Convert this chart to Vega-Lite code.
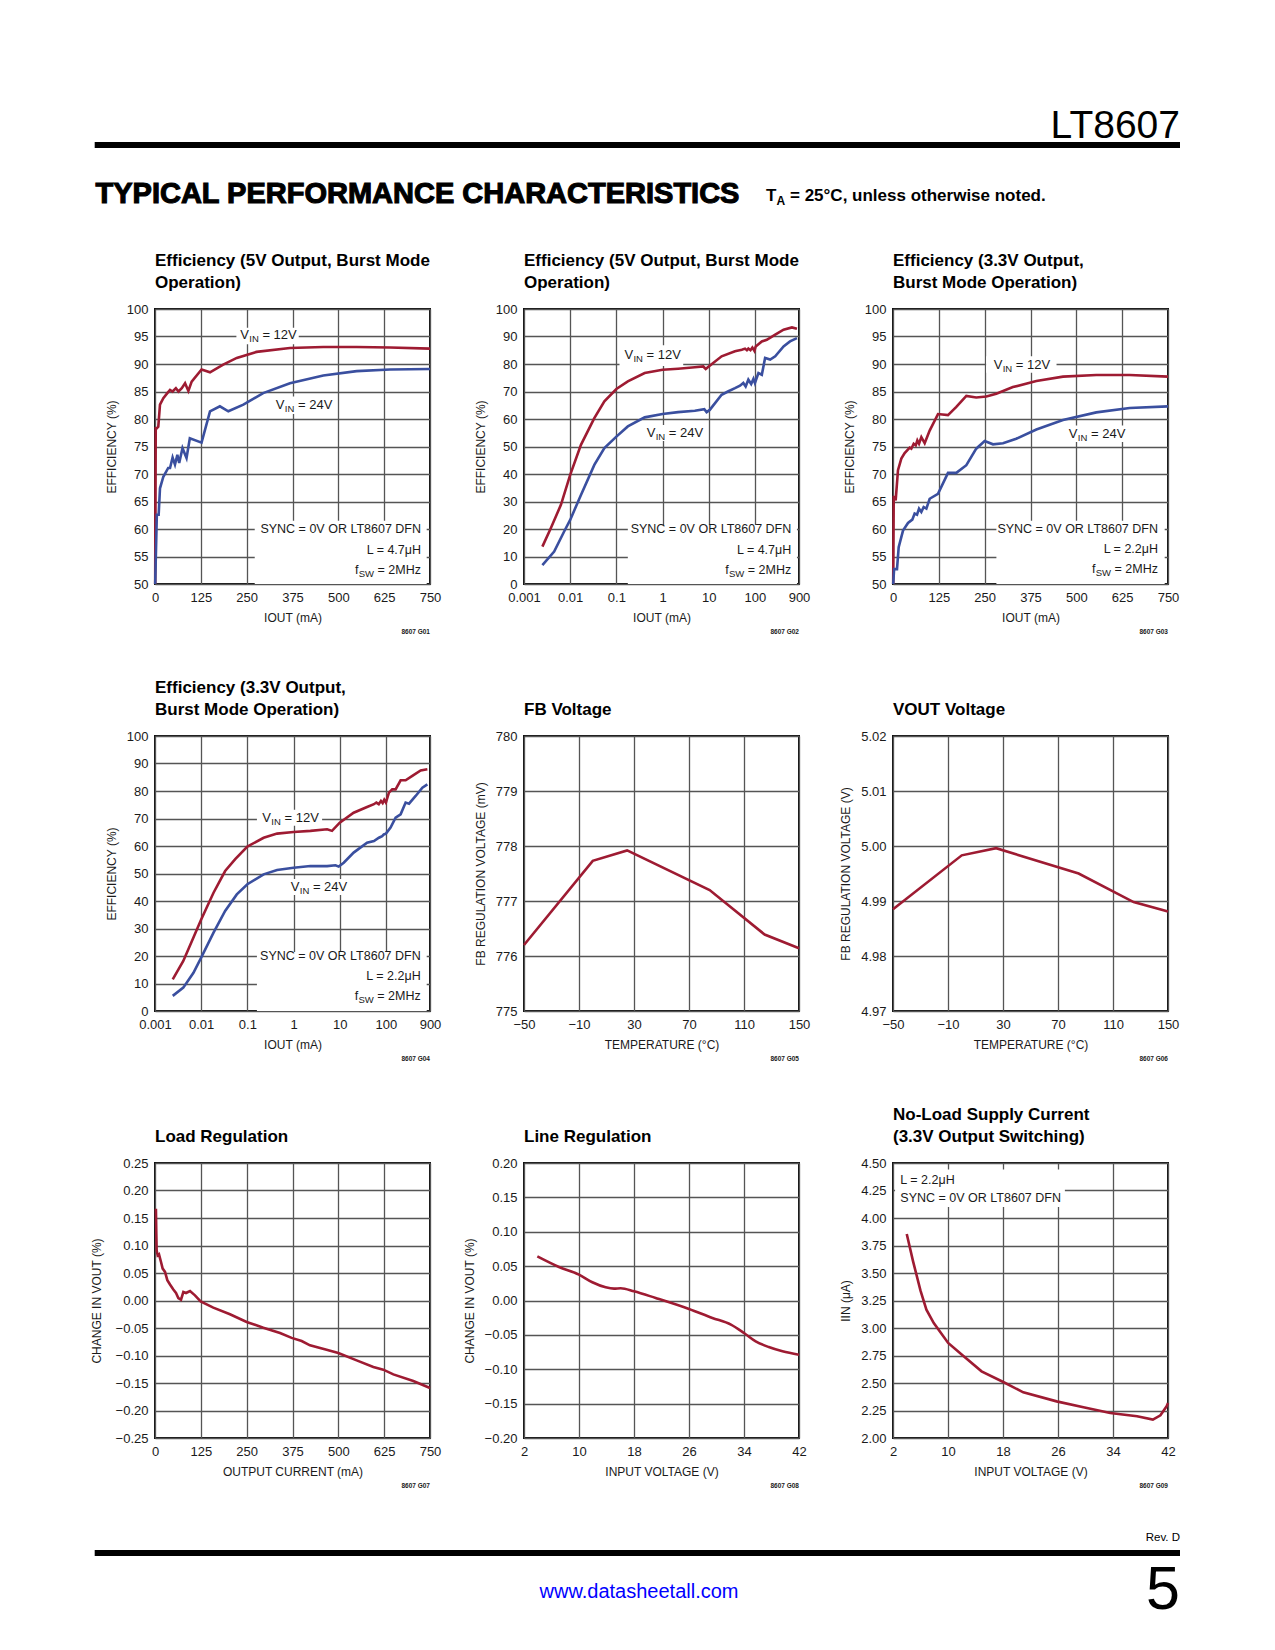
{
"$schema":"https://vega.github.io/schema/vega-lite/v6.json",
"padding":0,
"background":"white",
"config":{
 "font":"Liberation Sans, Arial, sans-serif",
 "view":{"stroke":"#111111","strokeWidth":2},
 "axis":{"domain":false,"ticks":false,"gridColor":"#555555","gridWidth":1.3,"gridOpacity":1,"labelFontSize":13,"labelColor":"#1a1a1a","labelPadding":7,"titleFontSize":12,"titleFontWeight":"normal","titleColor":"#1a1a1a","titlePadding":8,"labelFlush":false,"labelOverlap":false},
 "axisY":{"labelPadding":7,"titlePadding":8},
 "title":{"fontSize":17,"fontWeight":"bold","anchor":"start","frame":"group","color":"#000000","offset":11,"lineHeight":22,"baseline":"bottom"},
 "text":{"fontSize":12.5,"color":"#1a1a1a"},
 "line":{"strokeWidth":2.6}
},
"datasets":{
 "page":[
  {"role":"page","x":0,"x2":1275,"y":0,"y2":1650},
  {"role":"part","text":"LT8607","x":1180,"y":137},
  {"role":"rule","x":94.7,"x2":1180,"y":144},
  {"role":"section","text":"TYPICAL PERFORMANCE CHARACTERISTICS","x":95.5,"y":202},
  {"role":"note","text":"T","x":766,"y":200},
  {"role":"noteSub","text":"A","x":776.5,"y":200},
  {"role":"note","text":"= 25°C, unless otherwise noted.","x":790,"y":200},
  {"role":"rev","text":"Rev. D","x":1180,"y":1537},
  {"role":"rule","x":94.7,"x2":1180,"y":1552},
  {"role":"url","text":"www.datasheetall.com","x":639,"y":1591},
  {"role":"pageno","text":"5","x":1180,"y":1608}
 ],
 "eff":[
  {"chart":"G01","vin":"12V","x":0.5,"y":50},{"chart":"G01","vin":"12V","x":2,"y":78.3},{"chart":"G01","vin":"12V","x":4.5,"y":78.3},{"chart":"G01","vin":"12V","x":9,"y":78.6},{"chart":"G01","vin":"12V","x":13.6,"y":82.6},{"chart":"G01","vin":"12V","x":22.7,"y":83.8},{"chart":"G01","vin":"12V","x":33.6,"y":84.7},{"chart":"G01","vin":"12V","x":41,"y":85.3},{"chart":"G01","vin":"12V","x":48,"y":85},{"chart":"G01","vin":"12V","x":57,"y":85.6},{"chart":"G01","vin":"12V","x":64,"y":85},{"chart":"G01","vin":"12V","x":73,"y":85.6},{"chart":"G01","vin":"12V","x":82,"y":86.5},{"chart":"G01","vin":"12V","x":91,"y":85.1},{"chart":"G01","vin":"12V","x":100,"y":86.8},{"chart":"G01","vin":"12V","x":127,"y":89.0},{"chart":"G01","vin":"12V","x":150,"y":88.5},{"chart":"G01","vin":"12V","x":186,"y":89.9},{"chart":"G01","vin":"12V","x":223,"y":91.1},{"chart":"G01","vin":"12V","x":277,"y":92.2},{"chart":"G01","vin":"12V","x":368,"y":92.9},{"chart":"G01","vin":"12V","x":459,"y":93.1},{"chart":"G01","vin":"12V","x":550,"y":93.1},{"chart":"G01","vin":"12V","x":641,"y":93.0},{"chart":"G01","vin":"12V","x":750,"y":92.8},
  {"chart":"G01","vin":"24V","x":0.5,"y":50},{"chart":"G01","vin":"24V","x":5,"y":62.6},{"chart":"G01","vin":"24V","x":10,"y":62.6},{"chart":"G01","vin":"24V","x":13.6,"y":67.4},{"chart":"G01","vin":"24V","x":22.7,"y":69.5},{"chart":"G01","vin":"24V","x":36,"y":71.1},{"chart":"G01","vin":"24V","x":41,"y":71.1},{"chart":"G01","vin":"24V","x":48,"y":73.0},{"chart":"G01","vin":"24V","x":54.5,"y":71.7},{"chart":"G01","vin":"24V","x":61,"y":73.5},{"chart":"G01","vin":"24V","x":66,"y":72},{"chart":"G01","vin":"24V","x":75,"y":74.7},{"chart":"G01","vin":"24V","x":86,"y":72.9},{"chart":"G01","vin":"24V","x":95,"y":76.5},{"chart":"G01","vin":"24V","x":127,"y":75.7},{"chart":"G01","vin":"24V","x":150,"y":81.4},{"chart":"G01","vin":"24V","x":177,"y":82.3},{"chart":"G01","vin":"24V","x":200,"y":81.4},{"chart":"G01","vin":"24V","x":241,"y":82.6},{"chart":"G01","vin":"24V","x":295,"y":84.7},{"chart":"G01","vin":"24V","x":368,"y":86.5},{"chart":"G01","vin":"24V","x":459,"y":87.9},{"chart":"G01","vin":"24V","x":550,"y":88.7},{"chart":"G01","vin":"24V","x":641,"y":89.0},{"chart":"G01","vin":"24V","x":750,"y":89.1},
  {"chart":"G02","vin":"12V","x":0.0025,"y":13.6},{"chart":"G02","vin":"12V","x":0.0038,"y":20.3},{"chart":"G02","vin":"12V","x":0.0063,"y":28.8},{"chart":"G02","vin":"12V","x":0.01,"y":39.7},{"chart":"G02","vin":"12V","x":0.0171,"y":50.6},{"chart":"G02","vin":"12V","x":0.0333,"y":60.3},{"chart":"G02","vin":"12V","x":0.055,"y":66.4},{"chart":"G02","vin":"12V","x":0.1,"y":70.9},{"chart":"G02","vin":"12V","x":0.177,"y":73.7},{"chart":"G02","vin":"12V","x":0.41,"y":76.7},{"chart":"G02","vin":"12V","x":1,"y":77.9},{"chart":"G02","vin":"12V","x":2.17,"y":78.3},{"chart":"G02","vin":"12V","x":5,"y":78.8},{"chart":"G02","vin":"12V","x":7.6,"y":79.1},{"chart":"G02","vin":"12V","x":8.6,"y":78.2},{"chart":"G02","vin":"12V","x":10,"y":79.1},{"chart":"G02","vin":"12V","x":19,"y":82.8},{"chart":"G02","vin":"12V","x":37,"y":84.6},{"chart":"G02","vin":"12V","x":52,"y":85.2},{"chart":"G02","vin":"12V","x":61,"y":85.6},{"chart":"G02","vin":"12V","x":67,"y":85.0},{"chart":"G02","vin":"12V","x":72,"y":85.6},{"chart":"G02","vin":"12V","x":80,"y":85.0},{"chart":"G02","vin":"12V","x":88,"y":86.0},{"chart":"G02","vin":"12V","x":97.5,"y":84.8},{"chart":"G02","vin":"12V","x":104,"y":86.4},{"chart":"G02","vin":"12V","x":141,"y":88.2},{"chart":"G02","vin":"12V","x":181,"y":88.8},{"chart":"G02","vin":"12V","x":275,"y":90.7},{"chart":"G02","vin":"12V","x":417,"y":92.5},{"chart":"G02","vin":"12V","x":632,"y":93.3},{"chart":"G02","vin":"12V","x":813,"y":92.8},
  {"chart":"G02","vin":"24V","x":0.0025,"y":6.9},{"chart":"G02","vin":"24V","x":0.0045,"y":11.8},{"chart":"G02","vin":"24V","x":0.0074,"y":19.1},{"chart":"G02","vin":"24V","x":0.01,"y":23.3},{"chart":"G02","vin":"24V","x":0.0171,"y":32.4},{"chart":"G02","vin":"24V","x":0.0333,"y":43.3},{"chart":"G02","vin":"24V","x":0.055,"y":49.4},{"chart":"G02","vin":"24V","x":0.1,"y":53.6},{"chart":"G02","vin":"24V","x":0.177,"y":57.3},{"chart":"G02","vin":"24V","x":0.41,"y":60.6},{"chart":"G02","vin":"24V","x":1,"y":61.8},{"chart":"G02","vin":"24V","x":2.17,"y":62.5},{"chart":"G02","vin":"24V","x":5,"y":63},{"chart":"G02","vin":"24V","x":8,"y":63.6},{"chart":"G02","vin":"24V","x":9,"y":62.5},{"chart":"G02","vin":"24V","x":10.5,"y":63.3},{"chart":"G02","vin":"24V","x":19,"y":68.8},{"chart":"G02","vin":"24V","x":26,"y":70},{"chart":"G02","vin":"24V","x":37,"y":71.2},{"chart":"G02","vin":"24V","x":47.5,"y":72.1},{"chart":"G02","vin":"24V","x":56,"y":73.1},{"chart":"G02","vin":"24V","x":63,"y":71.8},{"chart":"G02","vin":"24V","x":72,"y":74.3},{"chart":"G02","vin":"24V","x":83,"y":72.7},{"chart":"G02","vin":"24V","x":93,"y":74.6},{"chart":"G02","vin":"24V","x":100,"y":73.1},{"chart":"G02","vin":"24V","x":119,"y":76.7},{"chart":"G02","vin":"24V","x":141,"y":76.1},{"chart":"G02","vin":"24V","x":166,"y":82.2},{"chart":"G02","vin":"24V","x":214,"y":81.6},{"chart":"G02","vin":"24V","x":275,"y":82.8},{"chart":"G02","vin":"24V","x":417,"y":86.4},{"chart":"G02","vin":"24V","x":575,"y":88.2},{"chart":"G02","vin":"24V","x":813,"y":89.4},
  {"chart":"G03","vin":"12V","x":0.5,"y":50},{"chart":"G03","vin":"12V","x":2,"y":65.8},{"chart":"G03","vin":"12V","x":4.5,"y":65.8},{"chart":"G03","vin":"12V","x":7.3,"y":65.2},{"chart":"G03","vin":"12V","x":13.6,"y":70.7},{"chart":"G03","vin":"12V","x":22.7,"y":72.8},{"chart":"G03","vin":"12V","x":31.8,"y":73.8},{"chart":"G03","vin":"12V","x":45.5,"y":74.8},{"chart":"G03","vin":"12V","x":50,"y":74.6},{"chart":"G03","vin":"12V","x":56.4,"y":75.5},{"chart":"G03","vin":"12V","x":62,"y":75.2},{"chart":"G03","vin":"12V","x":66.4,"y":76.1},{"chart":"G03","vin":"12V","x":71,"y":75.5},{"chart":"G03","vin":"12V","x":77.3,"y":76.7},{"chart":"G03","vin":"12V","x":86.4,"y":75.6},{"chart":"G03","vin":"12V","x":100,"y":77.9},{"chart":"G03","vin":"12V","x":122.7,"y":80.9},{"chart":"G03","vin":"12V","x":150,"y":80.7},{"chart":"G03","vin":"12V","x":172.7,"y":82.2},{"chart":"G03","vin":"12V","x":200,"y":84.2},{"chart":"G03","vin":"12V","x":227,"y":83.9},{"chart":"G03","vin":"12V","x":254.5,"y":84.1},{"chart":"G03","vin":"12V","x":281.8,"y":84.6},{"chart":"G03","vin":"12V","x":327,"y":85.8},{"chart":"G03","vin":"12V","x":391,"y":86.9},{"chart":"G03","vin":"12V","x":463.6,"y":87.7},{"chart":"G03","vin":"12V","x":554.5,"y":88.0},{"chart":"G03","vin":"12V","x":645.5,"y":88.0},{"chart":"G03","vin":"12V","x":750,"y":87.7},
  {"chart":"G03","vin":"24V","x":0.5,"y":50},{"chart":"G03","vin":"24V","x":3,"y":52.7},{"chart":"G03","vin":"24V","x":10.9,"y":52.7},{"chart":"G03","vin":"24V","x":15.5,"y":56.7},{"chart":"G03","vin":"24V","x":27.3,"y":59.7},{"chart":"G03","vin":"24V","x":40.9,"y":61.1},{"chart":"G03","vin":"24V","x":52.7,"y":61.7},{"chart":"G03","vin":"24V","x":59,"y":62.8},{"chart":"G03","vin":"24V","x":65.5,"y":62.6},{"chart":"G03","vin":"24V","x":71,"y":63.7},{"chart":"G03","vin":"24V","x":77.3,"y":63.1},{"chart":"G03","vin":"24V","x":83.6,"y":64},{"chart":"G03","vin":"24V","x":91,"y":63.7},{"chart":"G03","vin":"24V","x":100,"y":65.5},{"chart":"G03","vin":"24V","x":122.7,"y":66.4},{"chart":"G03","vin":"24V","x":150,"y":70.2},{"chart":"G03","vin":"24V","x":172.7,"y":70.2},{"chart":"G03","vin":"24V","x":200,"y":71.6},{"chart":"G03","vin":"24V","x":227,"y":74.6},{"chart":"G03","vin":"24V","x":250,"y":76.0},{"chart":"G03","vin":"24V","x":272.7,"y":75.4},{"chart":"G03","vin":"24V","x":300,"y":75.6},{"chart":"G03","vin":"24V","x":336,"y":76.4},{"chart":"G03","vin":"24V","x":391,"y":78.1},{"chart":"G03","vin":"24V","x":463.6,"y":79.8},{"chart":"G03","vin":"24V","x":554.5,"y":81.2},{"chart":"G03","vin":"24V","x":645.5,"y":82.0},{"chart":"G03","vin":"24V","x":750,"y":82.3},
  {"chart":"G04","vin":"12V","x":0.00242,"y":11.5},{"chart":"G04","vin":"12V","x":0.0041,"y":18.2},{"chart":"G04","vin":"12V","x":0.0068,"y":26.7},{"chart":"G04","vin":"12V","x":0.01,"y":33.3},{"chart":"G04","vin":"12V","x":0.0185,"y":43},{"chart":"G04","vin":"12V","x":0.033,"y":50.9},{"chart":"G04","vin":"12V","x":0.0546,"y":55.2},{"chart":"G04","vin":"12V","x":0.1,"y":59.8},{"chart":"G04","vin":"12V","x":0.225,"y":63},{"chart":"G04","vin":"12V","x":0.44,"y":64.5},{"chart":"G04","vin":"12V","x":1,"y":65.1},{"chart":"G04","vin":"12V","x":2.32,"y":65.5},{"chart":"G04","vin":"12V","x":5.33,"y":66.1},{"chart":"G04","vin":"12V","x":6.8,"y":65.5},{"chart":"G04","vin":"12V","x":10,"y":68.5},{"chart":"G04","vin":"12V","x":20,"y":72.1},{"chart":"G04","vin":"12V","x":39,"y":74.2},{"chart":"G04","vin":"12V","x":55,"y":75.2},{"chart":"G04","vin":"12V","x":62,"y":75.8},{"chart":"G04","vin":"12V","x":70,"y":75.2},{"chart":"G04","vin":"12V","x":78,"y":76.4},{"chart":"G04","vin":"12V","x":85,"y":75.6},{"chart":"G04","vin":"12V","x":92,"y":76.8},{"chart":"G04","vin":"12V","x":100,"y":75.8},{"chart":"G04","vin":"12V","x":116,"y":79.4},{"chart":"G04","vin":"12V","x":137,"y":80.6},{"chart":"G04","vin":"12V","x":162,"y":80.6},{"chart":"G04","vin":"12V","x":208,"y":83.9},{"chart":"G04","vin":"12V","x":267,"y":83.9},{"chart":"G04","vin":"12V","x":373,"y":85.5},{"chart":"G04","vin":"12V","x":565,"y":87.5},{"chart":"G04","vin":"12V","x":789,"y":87.9},
  {"chart":"G04","vin":"24V","x":0.00242,"y":5.5},{"chart":"G04","vin":"24V","x":0.0041,"y":8.5},{"chart":"G04","vin":"24V","x":0.0068,"y":13.9},{"chart":"G04","vin":"24V","x":0.01,"y":19.4},{"chart":"G04","vin":"24V","x":0.0185,"y":28.5},{"chart":"G04","vin":"24V","x":0.033,"y":36.4},{"chart":"G04","vin":"24V","x":0.059,"y":42.4},{"chart":"G04","vin":"24V","x":0.1,"y":46.1},{"chart":"G04","vin":"24V","x":0.225,"y":49.7},{"chart":"G04","vin":"24V","x":0.44,"y":51.3},{"chart":"G04","vin":"24V","x":1,"y":52.1},{"chart":"G04","vin":"24V","x":2.32,"y":52.7},{"chart":"G04","vin":"24V","x":5.33,"y":52.7},{"chart":"G04","vin":"24V","x":8.1,"y":53},{"chart":"G04","vin":"24V","x":9.5,"y":52.5},{"chart":"G04","vin":"24V","x":12.2,"y":53.9},{"chart":"G04","vin":"24V","x":20,"y":57.6},{"chart":"G04","vin":"24V","x":39,"y":61.2},{"chart":"G04","vin":"24V","x":55,"y":61.8},{"chart":"G04","vin":"24V","x":70.5,"y":63},{"chart":"G04","vin":"24V","x":83,"y":63.6},{"chart":"G04","vin":"24V","x":90,"y":64.2},{"chart":"G04","vin":"24V","x":100,"y":64.5},{"chart":"G04","vin":"24V","x":126,"y":66.7},{"chart":"G04","vin":"24V","x":162,"y":70.3},{"chart":"G04","vin":"24V","x":208,"y":71.5},{"chart":"G04","vin":"24V","x":267,"y":75.8},{"chart":"G04","vin":"24V","x":316,"y":75.4},{"chart":"G04","vin":"24V","x":440,"y":78.2},{"chart":"G04","vin":"24V","x":615,"y":81.2},{"chart":"G04","vin":"24V","x":789,"y":82.4}
 ],
 "temp":[
  {"chart":"G05","x":-50,"y":776.2},{"chart":"G05","x":0,"y":777.73},{"chart":"G05","x":25,"y":777.92},{"chart":"G05","x":85,"y":777.2},{"chart":"G05","x":125,"y":776.39},{"chart":"G05","x":150,"y":776.14},
  {"chart":"G06","x":-50,"y":4.9885},{"chart":"G06","x":0,"y":4.9983},{"chart":"G06","x":25,"y":4.9996},{"chart":"G06","x":85,"y":4.995},{"chart":"G06","x":125,"y":4.9898},{"chart":"G06","x":150,"y":4.9881}
 ],
 "loadreg":[
  {"x":2.5,"y":0.167},{"x":3.6,"y":0.1215},{"x":4.5,"y":0.091},{"x":7.3,"y":0.082},{"x":10.9,"y":0.084},{"x":16.4,"y":0.070},{"x":20.9,"y":0.058},{"x":27.3,"y":0.052},{"x":33.6,"y":0.037},{"x":40.9,"y":0.029},{"x":50,"y":0.020},{"x":57.3,"y":0.0136},{"x":63.6,"y":0.0045},{"x":70.9,"y":0.0015},{"x":77.3,"y":0.0154},{"x":84.5,"y":0.0136},{"x":95.5,"y":0.0173},{"x":109,"y":0.0094},{"x":124.5,"y":-0.0015},{"x":159,"y":-0.013},{"x":204.5,"y":-0.025},{"x":250,"y":-0.039},{"x":295.5,"y":-0.0494},{"x":341,"y":-0.059},{"x":372.7,"y":-0.068},{"x":400,"y":-0.0737},{"x":422.7,"y":-0.0815},{"x":468,"y":-0.0894},{"x":500,"y":-0.0955},{"x":550,"y":-0.1088},{"x":595.5,"y":-0.1209},{"x":622.7,"y":-0.1258},{"x":650,"y":-0.1343},{"x":704.5,"y":-0.1464},{"x":750,"y":-0.1591}
 ],
 "linereg":[
  {"x":3.94,"y":0.0642},{"x":7.09,"y":0.0488},{"x":10,"y":0.0376},{"x":11.94,"y":0.0265},{"x":13.88,"y":0.0192},{"x":15.1,"y":0.0173},{"x":16.06,"y":0.0178},{"x":18,"y":0.0134},{"x":21.15,"y":0.0037},{"x":26,"y":-0.0123},{"x":29.4,"y":-0.0254},{"x":32.1,"y":-0.0351},{"x":34,"y":-0.0473},{"x":35.7,"y":-0.0594},{"x":37.6,"y":-0.0677},{"x":39.6,"y":-0.0739},{"x":42,"y":-0.0788}
 ],
 "iq":[
  {"x":4,"y":3.855},{"x":4.92,"y":3.606},{"x":5.99,"y":3.342},{"x":6.86,"y":3.167},{"x":7.93,"y":3.045},{"x":10.02,"y":2.864},{"x":12.2,"y":2.748},{"x":14.88,"y":2.606},{"x":18.04,"y":2.509},{"x":20.95,"y":2.415},{"x":25.8,"y":2.333},{"x":29.7,"y":2.279},{"x":33.6,"y":2.227},{"x":37.5,"y":2.197},{"x":39.8,"y":2.167},{"x":40.9,"y":2.206},{"x":41.8,"y":2.288},{"x":42,"y":2.318}
 ],
 "boxes":[
  {"chart":"G01","x":222,"x2":392,"y":93.6,"y2":96.6},{"chart":"G01","x":322,"x2":490,"y":80.9,"y2":84.1},{"chart":"G01","x":272,"x2":741,"y":50,"y2":61.5},
  {"chart":"G02","x":0.117,"x2":2.8,"y":79.3,"y2":86.8},{"chart":"G02","x":0.44,"x2":7.6,"y":52,"y2":57.8},{"chart":"G02","x":0.177,"x2":813,"y":0,"y2":21.5},
  {"chart":"G03","x":254,"x2":446,"y":88.4,"y2":91.4},{"chart":"G03","x":477,"x2":634,"y":75.8,"y2":78.8},{"chart":"G03","x":282,"x2":741,"y":50,"y2":61.5},
  {"chart":"G04","x":0.161,"x2":4.15,"y":67.4,"y2":73.2},{"chart":"G04","x":0.85,"x2":14.5,"y":42.2,"y2":48},{"chart":"G04","x":0.161,"x2":764,"y":0,"y2":21.5},
  {"chart":"G09","x":2.3,"x2":27,"y":4.1,"y2":4.44}
 ],
 "vin":[
  {"chart":"G01","x":309,"y":95.2,"main":"V","sub":"IN","rest":"= 12V"},{"chart":"G01","x":406,"y":82.5,"main":"V","sub":"IN","rest":"= 24V"},
  {"chart":"G02","x":0.604,"y":83.4,"main":"V","sub":"IN","rest":"= 12V"},{"chart":"G02","x":1.83,"y":54.9,"main":"V","sub":"IN","rest":"= 24V"},
  {"chart":"G03","x":351,"y":89.9,"main":"V","sub":"IN","rest":"= 12V"},{"chart":"G03","x":556,"y":77.3,"main":"V","sub":"IN","rest":"= 24V"},
  {"chart":"G04","x":0.853,"y":70.3,"main":"V","sub":"IN","rest":"= 12V"},{"chart":"G04","x":3.52,"y":45.1,"main":"V","sub":"IN","rest":"= 24V"}
 ],
 "notes":[
  {"chart":"G01","x":725.5,"y":60.0,"text":"SYNC = 0V OR LT8607 DFN"},{"chart":"G01","x":725.5,"y":56.2,"text":"L = 4.7μH"},
  {"chart":"G02","x":612,"y":20.0,"text":"SYNC = 0V OR LT8607 DFN"},{"chart":"G02","x":612,"y":12.4,"text":"L = 4.7μH"},
  {"chart":"G03","x":722.7,"y":60.0,"text":"SYNC = 0V OR LT8607 DFN"},{"chart":"G03","x":722.7,"y":56.4,"text":"L = 2.2μH"},
  {"chart":"G04","x":566,"y":20.0,"text":"SYNC = 0V OR LT8607 DFN"},{"chart":"G04","x":566,"y":12.7,"text":"L = 2.2μH"},
  {"chart":"G09","x":3.07,"y":4.348,"text":"L = 2.2μH"},{"chart":"G09","x":3.07,"y":4.18,"text":"SYNC = 0V OR LT8607 DFN"}
 ],
 "fsw":[
  {"chart":"G01","x":725.5,"y":52.5,"main":"f","sub":"SW","rest":"= 2MHz"},
  {"chart":"G02","x":612,"y":5.1,"main":"f","sub":"SW","rest":"= 2MHz"},
  {"chart":"G03","x":722.7,"y":52.7,"main":"f","sub":"SW","rest":"= 2MHz"},
  {"chart":"G04","x":566,"y":5.5,"main":"f","sub":"SW","rest":"= 2MHz"}
 ],
 "codes":[
  {"chart":"G01","x":750,"y":50,"code":"8607 G01"},{"chart":"G02","x":900,"y":0,"code":"8607 G02"},{"chart":"G03","x":750,"y":50,"code":"8607 G03"},
  {"chart":"G04","x":900,"y":0,"code":"8607 G04"},{"chart":"G05","x":150,"y":775,"code":"8607 G05"},{"chart":"G06","x":150,"y":4.97,"code":"8607 G06"},
  {"chart":"G07","x":750,"y":-0.25,"code":"8607 G07"},{"chart":"G08","x":42,"y":-0.2,"code":"8607 G08"},{"chart":"G09","x":42,"y":2,"code":"8607 G09"}
 ]
},
"bounds":"flush",
"columns":3,
"spacing":{"row":152,"column":94},
"concat":[
 {
  "width":275,"height":100,"view":{"stroke":null},
  "data":{"name":"page"},
  "encoding":{"x":{"field":"x","type":"quantitative","scale":{"domain":[155,430],"nice":false,"zero":false},"axis":null},"y":{"field":"y","type":"quantitative","scale":{"domain":[56,156],"nice":false,"zero":false,"reverse":true},"axis":null}},
  "layer":[
   {"transform":[{"filter":"datum.role==='page'"}],"mark":{"type":"rect","fill":"white"},"encoding":{"x2":{"field":"x2"},"y2":{"field":"y2"}}},
   {"transform":[{"filter":"datum.role==='rule'"}],"mark":{"type":"rule","strokeWidth":6,"color":"#000000"},"encoding":{"x2":{"field":"x2"}}},
   {"transform":[{"filter":"datum.role==='part'"}],"mark":{"type":"text","align":"right","baseline":"alphabetic","fontSize":39,"color":"#000000"},"encoding":{"text":{"field":"text"}}},
   {"transform":[{"filter":"datum.role==='section'"}],"mark":{"type":"text","align":"left","baseline":"alphabetic","fontSize":29,"fontWeight":"bold","color":"#000000","stroke":"#000000","strokeWidth":1.1},"encoding":{"text":{"field":"text"}}},
   {"transform":[{"filter":"datum.role==='note'"}],"mark":{"type":"text","align":"left","baseline":"alphabetic","fontSize":17,"fontWeight":"bold","color":"#000000"},"encoding":{"text":{"field":"text"}}},
   {"transform":[{"filter":"datum.role==='noteSub'"}],"mark":{"type":"text","align":"left","baseline":"alphabetic","fontSize":12,"fontWeight":"bold","dy":4,"color":"#000000"},"encoding":{"text":{"field":"text"}}},
   {"transform":[{"filter":"datum.role==='rev'"}],"mark":{"type":"text","align":"right","baseline":"middle","fontSize":11.5,"color":"#000000"},"encoding":{"text":{"field":"text"}}},
   {"transform":[{"filter":"datum.role==='url'"}],"mark":{"type":"text","align":"center","baseline":"middle","fontSize":20,"color":"#0000ff"},"encoding":{"text":{"field":"text"}}},
   {"transform":[{"filter":"datum.role==='pageno'"}],"mark":{"type":"text","align":"right","baseline":"alphabetic","fontSize":61,"fontWeight":300,"color":"#000000"},"encoding":{"text":{"field":"text"}}}
  ]
 },
 {"width":275,"height":100,"view":{"stroke":null},"data":{"values":[{}]},"mark":{"type":"text"},"encoding":{}},
 {"width":275,"height":100,"view":{"stroke":null},"data":{"values":[{}]},"mark":{"type":"text"},"encoding":{}},
 {"width":275,"height":275,"title":{"text":["Efficiency (5V Output, Burst Mode","Operation)"]},
  "encoding":{"x":{"field":"x","type":"quantitative","scale":{"domain":[0,750],"nice":false,"zero":false},"axis":{"values":[0,125,250,375,500,625,750],"title":"IOUT (mA)"}},
              "y":{"field":"y","type":"quantitative","scale":{"domain":[50,100],"nice":false,"zero":false},"axis":{"values":[50,55,60,65,70,75,80,85,90,95,100],"title":"EFFICIENCY (%)"}}},
  "layer":[
   {"data":{"name":"boxes"},"transform":[{"filter":"datum.chart==='G01'"}],"mark":{"type":"rect","fill":"white"},"encoding":{"x2":{"field":"x2"},"y2":{"field":"y2"}}},
   {"data":{"name":"eff"},"transform":[{"filter":"datum.chart==='G01'"}],"mark":{"type":"line"},"encoding":{"color":{"field":"vin","type":"nominal","scale":{"domain":["12V","24V"],"range":["#9e1b32","#3a4f9f"]},"legend":null}}},
   {"data":{"name":"vin"},"transform":[{"filter":"datum.chart==='G01'"}],"mark":{"type":"text","align":"left","baseline":"middle","dx":-28,"fontSize":13},"encoding":{"text":{"field":"main"}}},
   {"data":{"name":"vin"},"transform":[{"filter":"datum.chart==='G01'"}],"mark":{"type":"text","align":"left","baseline":"middle","dx":-19,"dy":4,"fontSize":9.5},"encoding":{"text":{"field":"sub"}}},
   {"data":{"name":"vin"},"transform":[{"filter":"datum.chart==='G01'"}],"mark":{"type":"text","align":"left","baseline":"middle","dx":-5.9,"fontSize":13},"encoding":{"text":{"field":"rest"}}},
   {"data":{"name":"notes"},"transform":[{"filter":"datum.chart==='G01'"}],"mark":{"type":"text","align":"right","baseline":"middle"},"encoding":{"text":{"field":"text"}}},
   {"data":{"name":"fsw"},"transform":[{"filter":"datum.chart==='G01'"}],"mark":{"type":"text","align":"right","baseline":"middle"},"encoding":{"text":{"field":"rest"}}},
   {"data":{"name":"fsw"},"transform":[{"filter":"datum.chart==='G01'"}],"mark":{"type":"text","align":"right","baseline":"middle","dx":-47,"dy":4,"fontSize":9.5},"encoding":{"text":{"field":"sub"}}},
   {"data":{"name":"fsw"},"transform":[{"filter":"datum.chart==='G01'"}],"mark":{"type":"text","align":"right","baseline":"middle","dx":-62.5},"encoding":{"text":{"field":"main"}}},
   {"data":{"name":"codes"},"transform":[{"filter":"datum.chart==='G01'"}],"mark":{"type":"text","align":"right","baseline":"middle","dy":48,"fontSize":6.5,"fontWeight":"bold"},"encoding":{"text":{"field":"code"}}}
  ]},
 {"width":275,"height":275,"title":{"text":["Efficiency (5V Output, Burst Mode","Operation)"]},
  "encoding":{"x":{"field":"x","type":"quantitative","scale":{"type":"log","domain":[0.001,900],"nice":false},"axis":{"values":[0.001,0.01,0.1,1,10,100,900],"format":"~g","title":"IOUT (mA)"}},
              "y":{"field":"y","type":"quantitative","scale":{"domain":[0,100],"nice":false},"axis":{"values":[0,10,20,30,40,50,60,70,80,90,100],"title":"EFFICIENCY (%)"}}},
  "layer":[
   {"data":{"name":"boxes"},"transform":[{"filter":"datum.chart==='G02'"}],"mark":{"type":"rect","fill":"white"},"encoding":{"x2":{"field":"x2"},"y2":{"field":"y2"}}},
   {"data":{"name":"eff"},"transform":[{"filter":"datum.chart==='G02'"}],"mark":{"type":"line"},"encoding":{"color":{"field":"vin","type":"nominal","scale":{"domain":["12V","24V"],"range":["#9e1b32","#3a4f9f"]},"legend":null}}},
   {"data":{"name":"vin"},"transform":[{"filter":"datum.chart==='G02'"}],"mark":{"type":"text","align":"left","baseline":"middle","dx":-28,"fontSize":13},"encoding":{"text":{"field":"main"}}},
   {"data":{"name":"vin"},"transform":[{"filter":"datum.chart==='G02'"}],"mark":{"type":"text","align":"left","baseline":"middle","dx":-19,"dy":4,"fontSize":9.5},"encoding":{"text":{"field":"sub"}}},
   {"data":{"name":"vin"},"transform":[{"filter":"datum.chart==='G02'"}],"mark":{"type":"text","align":"left","baseline":"middle","dx":-5.9,"fontSize":13},"encoding":{"text":{"field":"rest"}}},
   {"data":{"name":"notes"},"transform":[{"filter":"datum.chart==='G02'"}],"mark":{"type":"text","align":"right","baseline":"middle"},"encoding":{"text":{"field":"text"}}},
   {"data":{"name":"fsw"},"transform":[{"filter":"datum.chart==='G02'"}],"mark":{"type":"text","align":"right","baseline":"middle"},"encoding":{"text":{"field":"rest"}}},
   {"data":{"name":"fsw"},"transform":[{"filter":"datum.chart==='G02'"}],"mark":{"type":"text","align":"right","baseline":"middle","dx":-47,"dy":4,"fontSize":9.5},"encoding":{"text":{"field":"sub"}}},
   {"data":{"name":"fsw"},"transform":[{"filter":"datum.chart==='G02'"}],"mark":{"type":"text","align":"right","baseline":"middle","dx":-62.5},"encoding":{"text":{"field":"main"}}},
   {"data":{"name":"codes"},"transform":[{"filter":"datum.chart==='G02'"}],"mark":{"type":"text","align":"right","baseline":"middle","dy":48,"fontSize":6.5,"fontWeight":"bold"},"encoding":{"text":{"field":"code"}}}
  ]},
 {"width":275,"height":275,"title":{"text":["Efficiency (3.3V Output,","Burst Mode Operation)"]},
  "encoding":{"x":{"field":"x","type":"quantitative","scale":{"domain":[0,750],"nice":false,"zero":false},"axis":{"values":[0,125,250,375,500,625,750],"title":"IOUT (mA)"}},
              "y":{"field":"y","type":"quantitative","scale":{"domain":[50,100],"nice":false,"zero":false},"axis":{"values":[50,55,60,65,70,75,80,85,90,95,100],"title":"EFFICIENCY (%)"}}},
  "layer":[
   {"data":{"name":"boxes"},"transform":[{"filter":"datum.chart==='G03'"}],"mark":{"type":"rect","fill":"white"},"encoding":{"x2":{"field":"x2"},"y2":{"field":"y2"}}},
   {"data":{"name":"eff"},"transform":[{"filter":"datum.chart==='G03'"}],"mark":{"type":"line"},"encoding":{"color":{"field":"vin","type":"nominal","scale":{"domain":["12V","24V"],"range":["#9e1b32","#3a4f9f"]},"legend":null}}},
   {"data":{"name":"vin"},"transform":[{"filter":"datum.chart==='G03'"}],"mark":{"type":"text","align":"left","baseline":"middle","dx":-28,"fontSize":13},"encoding":{"text":{"field":"main"}}},
   {"data":{"name":"vin"},"transform":[{"filter":"datum.chart==='G03'"}],"mark":{"type":"text","align":"left","baseline":"middle","dx":-19,"dy":4,"fontSize":9.5},"encoding":{"text":{"field":"sub"}}},
   {"data":{"name":"vin"},"transform":[{"filter":"datum.chart==='G03'"}],"mark":{"type":"text","align":"left","baseline":"middle","dx":-5.9,"fontSize":13},"encoding":{"text":{"field":"rest"}}},
   {"data":{"name":"notes"},"transform":[{"filter":"datum.chart==='G03'"}],"mark":{"type":"text","align":"right","baseline":"middle"},"encoding":{"text":{"field":"text"}}},
   {"data":{"name":"fsw"},"transform":[{"filter":"datum.chart==='G03'"}],"mark":{"type":"text","align":"right","baseline":"middle"},"encoding":{"text":{"field":"rest"}}},
   {"data":{"name":"fsw"},"transform":[{"filter":"datum.chart==='G03'"}],"mark":{"type":"text","align":"right","baseline":"middle","dx":-47,"dy":4,"fontSize":9.5},"encoding":{"text":{"field":"sub"}}},
   {"data":{"name":"fsw"},"transform":[{"filter":"datum.chart==='G03'"}],"mark":{"type":"text","align":"right","baseline":"middle","dx":-62.5},"encoding":{"text":{"field":"main"}}},
   {"data":{"name":"codes"},"transform":[{"filter":"datum.chart==='G03'"}],"mark":{"type":"text","align":"right","baseline":"middle","dy":48,"fontSize":6.5,"fontWeight":"bold"},"encoding":{"text":{"field":"code"}}}
  ]},
 {"width":275,"height":275,"title":{"text":["Efficiency (3.3V Output,","Burst Mode Operation)"]},
  "encoding":{"x":{"field":"x","type":"quantitative","scale":{"type":"log","domain":[0.001,900],"nice":false},"axis":{"values":[0.001,0.01,0.1,1,10,100,900],"format":"~g","title":"IOUT (mA)"}},
              "y":{"field":"y","type":"quantitative","scale":{"domain":[0,100],"nice":false},"axis":{"values":[0,10,20,30,40,50,60,70,80,90,100],"title":"EFFICIENCY (%)"}}},
  "layer":[
   {"data":{"name":"boxes"},"transform":[{"filter":"datum.chart==='G04'"}],"mark":{"type":"rect","fill":"white"},"encoding":{"x2":{"field":"x2"},"y2":{"field":"y2"}}},
   {"data":{"name":"eff"},"transform":[{"filter":"datum.chart==='G04'"}],"mark":{"type":"line"},"encoding":{"color":{"field":"vin","type":"nominal","scale":{"domain":["12V","24V"],"range":["#9e1b32","#3a4f9f"]},"legend":null}}},
   {"data":{"name":"vin"},"transform":[{"filter":"datum.chart==='G04'"}],"mark":{"type":"text","align":"left","baseline":"middle","dx":-28,"fontSize":13},"encoding":{"text":{"field":"main"}}},
   {"data":{"name":"vin"},"transform":[{"filter":"datum.chart==='G04'"}],"mark":{"type":"text","align":"left","baseline":"middle","dx":-19,"dy":4,"fontSize":9.5},"encoding":{"text":{"field":"sub"}}},
   {"data":{"name":"vin"},"transform":[{"filter":"datum.chart==='G04'"}],"mark":{"type":"text","align":"left","baseline":"middle","dx":-5.9,"fontSize":13},"encoding":{"text":{"field":"rest"}}},
   {"data":{"name":"notes"},"transform":[{"filter":"datum.chart==='G04'"}],"mark":{"type":"text","align":"right","baseline":"middle"},"encoding":{"text":{"field":"text"}}},
   {"data":{"name":"fsw"},"transform":[{"filter":"datum.chart==='G04'"}],"mark":{"type":"text","align":"right","baseline":"middle"},"encoding":{"text":{"field":"rest"}}},
   {"data":{"name":"fsw"},"transform":[{"filter":"datum.chart==='G04'"}],"mark":{"type":"text","align":"right","baseline":"middle","dx":-47,"dy":4,"fontSize":9.5},"encoding":{"text":{"field":"sub"}}},
   {"data":{"name":"fsw"},"transform":[{"filter":"datum.chart==='G04'"}],"mark":{"type":"text","align":"right","baseline":"middle","dx":-62.5},"encoding":{"text":{"field":"main"}}},
   {"data":{"name":"codes"},"transform":[{"filter":"datum.chart==='G04'"}],"mark":{"type":"text","align":"right","baseline":"middle","dy":48,"fontSize":6.5,"fontWeight":"bold"},"encoding":{"text":{"field":"code"}}}
  ]},
 {"width":275,"height":275,"title":{"text":"FB Voltage"},
  "encoding":{"x":{"field":"x","type":"quantitative","scale":{"domain":[-50,150],"nice":false,"zero":false},"axis":{"values":[-50,-10,30,70,110,150],"format":"d","title":"TEMPERATURE (°C)"}},
              "y":{"field":"y","type":"quantitative","scale":{"domain":[775,780],"nice":false,"zero":false},"axis":{"values":[775,776,777,778,779,780],"format":"d","title":"FB REGULATION VOLTAGE (mV)"}}},
  "layer":[
   {"data":{"name":"temp"},"transform":[{"filter":"datum.chart==='G05'"}],"mark":{"type":"line","color":"#9e1b32"}},
   {"data":{"name":"codes"},"transform":[{"filter":"datum.chart==='G05'"}],"mark":{"type":"text","align":"right","baseline":"middle","dy":48,"fontSize":6.5,"fontWeight":"bold"},"encoding":{"text":{"field":"code"}}}
  ]},
 {"width":275,"height":275,"title":{"text":"VOUT Voltage"},
  "encoding":{"x":{"field":"x","type":"quantitative","scale":{"domain":[-50,150],"nice":false,"zero":false},"axis":{"values":[-50,-10,30,70,110,150],"format":"d","title":"TEMPERATURE (°C)"}},
              "y":{"field":"y","type":"quantitative","scale":{"domain":[4.97,5.02],"nice":false,"zero":false},"axis":{"values":[4.97,4.98,4.99,5,5.01,5.02],"format":".2f","title":"FB REGULATION VOLTAGE (V)"}}},
  "layer":[
   {"data":{"name":"temp"},"transform":[{"filter":"datum.chart==='G06'"}],"mark":{"type":"line","color":"#9e1b32"}},
   {"data":{"name":"codes"},"transform":[{"filter":"datum.chart==='G06'"}],"mark":{"type":"text","align":"right","baseline":"middle","dy":48,"fontSize":6.5,"fontWeight":"bold"},"encoding":{"text":{"field":"code"}}}
  ]},
 {"width":275,"height":275,"title":{"text":"Load Regulation"},
  "encoding":{"x":{"field":"x","type":"quantitative","scale":{"domain":[0,750],"nice":false,"zero":false},"axis":{"values":[0,125,250,375,500,625,750],"title":"OUTPUT CURRENT (mA)"}},
              "y":{"field":"y","type":"quantitative","scale":{"domain":[-0.25,0.25],"nice":false,"zero":false},"axis":{"values":[-0.25,-0.2,-0.15,-0.1,-0.05,0,0.05,0.1,0.15,0.2,0.25],"format":".2f","title":"CHANGE IN VOUT (%)","titlePadding":12}}},
  "layer":[
   {"data":{"name":"loadreg"},"mark":{"type":"line","color":"#9e1b32"}},
   {"data":{"name":"codes"},"transform":[{"filter":"datum.chart==='G07'"}],"mark":{"type":"text","align":"right","baseline":"middle","dy":48,"fontSize":6.5,"fontWeight":"bold"},"encoding":{"text":{"field":"code"}}}
  ]},
 {"width":275,"height":275,"title":{"text":"Line Regulation"},
  "encoding":{"x":{"field":"x","type":"quantitative","scale":{"domain":[2,42],"nice":false,"zero":false},"axis":{"values":[2,10,18,26,34,42],"title":"INPUT VOLTAGE (V)"}},
              "y":{"field":"y","type":"quantitative","scale":{"domain":[-0.2,0.2],"nice":false,"zero":false},"axis":{"values":[-0.2,-0.15,-0.1,-0.05,0,0.05,0.1,0.15,0.2],"format":".2f","title":"CHANGE IN VOUT (%)"}}},
  "layer":[
   {"data":{"name":"linereg"},"mark":{"type":"line","color":"#9e1b32","interpolate":"monotone"}},
   {"data":{"name":"codes"},"transform":[{"filter":"datum.chart==='G08'"}],"mark":{"type":"text","align":"right","baseline":"middle","dy":48,"fontSize":6.5,"fontWeight":"bold"},"encoding":{"text":{"field":"code"}}}
  ]},
 {"width":275,"height":275,"title":{"text":["No-Load Supply Current","(3.3V Output Switching)"]},
  "encoding":{"x":{"field":"x","type":"quantitative","scale":{"domain":[2,42],"nice":false,"zero":false},"axis":{"values":[2,10,18,26,34,42],"title":"INPUT VOLTAGE (V)"}},
              "y":{"field":"y","type":"quantitative","scale":{"domain":[2,4.5],"nice":false,"zero":false},"axis":{"values":[2,2.25,2.5,2.75,3,3.25,3.5,3.75,4,4.25,4.5],"format":".2f","title":"IIN (μA)"}}},
  "layer":[
   {"data":{"name":"boxes"},"transform":[{"filter":"datum.chart==='G09'"}],"mark":{"type":"rect","fill":"white"},"encoding":{"x2":{"field":"x2"},"y2":{"field":"y2"}}},
   {"data":{"name":"iq"},"mark":{"type":"line","color":"#9e1b32"}},
   {"data":{"name":"notes"},"transform":[{"filter":"datum.chart==='G09'"}],"mark":{"type":"text","align":"left","baseline":"middle"},"encoding":{"text":{"field":"text"}}},
   {"data":{"name":"codes"},"transform":[{"filter":"datum.chart==='G09'"}],"mark":{"type":"text","align":"right","baseline":"middle","dy":48,"fontSize":6.5,"fontWeight":"bold"},"encoding":{"text":{"field":"code"}}}
  ]}
]
}
